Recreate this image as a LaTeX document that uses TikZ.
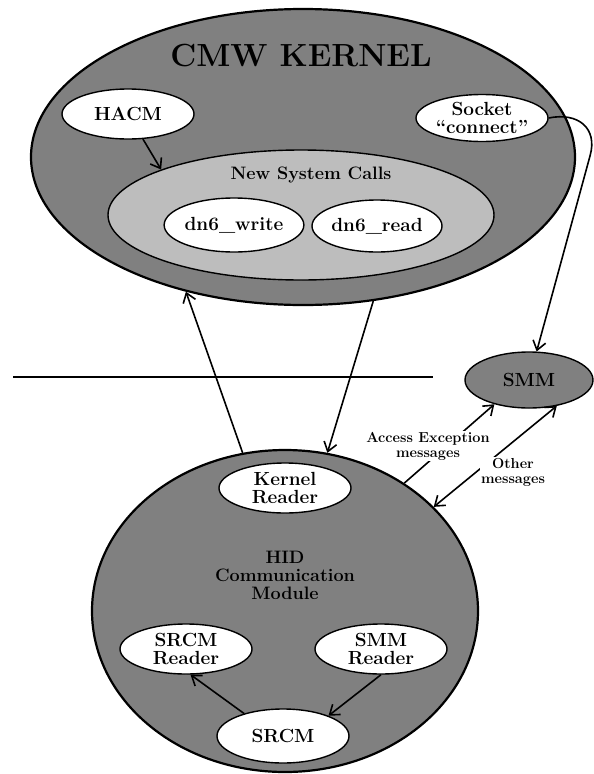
\documentclass[tikz,border=0pt]{standalone}
\usepackage{fontspec}
\usepackage{tikz}
\usetikzlibrary{shapes.geometric, arrows.meta}
\definecolor{darkdots}{gray}{0.5}
\definecolor{lightdots}{gray}{0.74}

\begin{document}
\begin{tikzpicture}
[every node/.style={inner sep=0pt},
 >={Straight Barb[length=9pt, width=13pt]},
 zone/.style={ellipse, fill=darkdots, line width=2.2pt, draw=black},
 blob/.style={ellipse, minimum width=132pt, minimum height=50pt, fill=white, line width=1.4pt, draw=black, align=center, font=\bfseries\fontsize{19}{18.5}\selectfont},
 msg/.style={fill=white, inner sep=1pt, align=center, font=\bfseries\fontsize{14.5}{15}\selectfont},
 link/.style={line width=1.6pt, ->}]
\useasboundingbox (0pt,0pt) rectangle (594pt,-774pt);
% kernel side
\node (kernel) [zone, minimum width=544pt, minimum height=296pt] at (303pt, -157pt) {};
\node (title) [font=\bfseries\fontsize{32}{32}\selectfont] at (301pt, -56pt) {CMW KERNEL};
\node (hacm) [blob] at (128pt, -114pt) {HACM};
\node (socket) [blob, minimum height=47pt] at (482pt, -118pt) {Socket\\“connect”};
\node (nsc) [ellipse, fill=lightdots, line width=1.4pt, draw=black, minimum width=386pt, minimum height=130pt] at (301pt, -215pt) {};
\node (nsctext) [font=\bfseries\fontsize{18}{18}\selectfont] at (311pt, -175pt) {New System Calls};
\node (write) [blob, minimum height=54pt] at (234pt, -225pt) {dn6\_write};
\node (read) [blob, minimum width=130pt, minimum height=52pt] at (377pt, -226pt) {dn6\_read};
\node (smm) [zone, line width=1.4pt, minimum width=128pt, minimum height=56pt, font=\bfseries\fontsize{19}{19}\selectfont] at (529pt, -380pt) {SMM};
% HID side
\node (hid) [zone, minimum width=386pt, minimum height=322pt] at (285pt, -611pt) {};
\node (hidtext) [align=center, font=\bfseries\fontsize{18}{18}\selectfont] at (285pt, -575pt) {HID\\Communication\\Module};
\node (kread) [blob] at (285pt, -488pt) {Kernel\\Reader};
\node (srcmrd) [blob] at (186pt, -649pt) {SRCM\\Reader};
\node (smmrd) [blob] at (381pt, -649pt) {SMM\\Reader};
\node (srcm) [blob, minimum height=54pt] at (283pt, -736pt) {SRCM};
\coordinate (divl) at (13pt, -377pt);
\coordinate (divr) at (433pt, -377pt);
\coordinate (bend) at (590pt, -156pt);
\draw [line width=2pt] (divl) -- (divr);
\draw [link] (hacm) -- (nsc.162);
\draw [link] (socket.east) .. controls (578pt, -112pt) and (598pt, -128pt) .. (bend) -- (smm.75);
\draw [link] (hid.105) -- (kernel.229);
\draw [link] (kernel.296) -- (hid.75);
\draw [link] (srcm.150) -- (srcmrd.280);
\draw [link] (smmrd.south) -- (srcm.24);
\draw [link] (hid.47) -- (smm.215);
\draw [link, <->] (hid.35) -- (smm.317);
\node (aem) [msg] at (428pt, -446pt) {Access Exception\\messages};
\node (om) [msg] at (513pt, -472pt) {Other\\messages};
\end{tikzpicture}
\end{document}
